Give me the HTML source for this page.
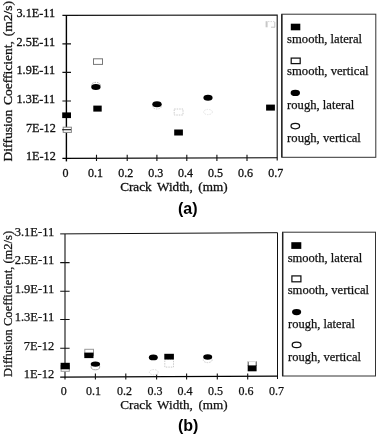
<!DOCTYPE html>
<html>
<head>
<meta charset="utf-8">
<title>Diffusion Coefficient vs Crack Width</title>
<style>
html,body{margin:0;padding:0;background:#fff;}
svg{display:block;}
text{font-family:"Liberation Serif","Times New Roman",serif;fill:#111;stroke:#111;stroke-width:0.3;}
.b{font-family:"Liberation Sans",Arial,sans-serif;font-weight:bold;fill:#000;stroke:none;}
.ax{stroke:#111;stroke-width:1.1;fill:none;}
.tk{stroke:#111;stroke-width:1.1;fill:none;}
.lg{stroke:#333;stroke-width:1;fill:none;}
.l text,.t2 text,text.t2{stroke-width:0.25;}
.fs{fill:#000;}
.lo{fill:#fff;stroke:#222;stroke-width:1;}
.os{fill:#fff;stroke:#555;stroke-width:1;}
.ft{fill:#fff;stroke:#ccc;stroke-width:1;stroke-dasharray:1.5 1;}
</style>
</head>
<body>
<svg width="378" height="434" viewBox="0 0 378 434">
<rect width="378" height="434" fill="#fff"/>

<!-- ===== (a) ===== -->
<g>
<!-- frame -->
<path class="ax" d="M62.4 15.4L277.2 15V160.6"/>
<path class="ax" d="M66.4 15.2V161.4" style="stroke-width:1.4;stroke:#000"/>
<path class="ax" d="M62.4 158.4L277.2 157.8" style="stroke-width:1.1;stroke:#000"/>
<!-- y ticks -->
<path class="tk" d="M62.4 43.9H71M62.4 72.4H71M62.4 101H71M62.4 129.7H71"/>
<!-- x ticks -->
<path class="tk" d="M96.5 154.8V161M127.2 154.8V161M156.9 154.8V161M186.8 154.8V161M216.9 154.8V161M247 154.8V161"/>
<!-- y labels -->
<g font-size="12.2" text-anchor="end" style="stroke-width:0.4">
<text x="55" y="17.3">3.1E-11</text>
<text x="55" y="45.8">2.5E-11</text>
<text x="55" y="74.4">1.9E-11</text>
<text x="55" y="103">1.3E-11</text>
<text x="55.8" y="132">7E-12</text>
<text x="55.8" y="160.3">1E-12</text>
</g>
<!-- x labels -->
<g font-size="12" text-anchor="middle">
<text x="65.6" y="176.5">0</text>
<text x="95.4" y="176.5">0.1</text>
<text x="125.8" y="176.5">0.2</text>
<text x="155.7" y="176.5">0.3</text>
<text x="185.6" y="176.5">0.4</text>
<text x="215.6" y="176.5">0.5</text>
<text x="245.6" y="176.5">0.6</text>
<text x="275.7" y="176.5">0.7</text>
</g>
<text x="120.2" y="191.4" font-size="13.2" word-spacing="2.3" textLength="107.4" lengthAdjust="spacingAndGlyphs">Crack Width, (mm)</text>
<text transform="translate(11.9 161.4) rotate(-90)" font-size="13.5" word-spacing="1.4" textLength="160.4" lengthAdjust="spacingAndGlyphs">Diffusion Coefficient, (m2/s)</text>
<text class="b" x="178" y="214.2" font-size="16">(a)</text>

<!-- data -->
<rect class="os" x="63.2" y="127.2" width="8.2" height="5.2" style="stroke:#888"/>
<path class="tk" d="M62.4 129.7H71"/>
<rect class="fs" x="62.2" y="112.4" width="8.8" height="5.7"/>
<rect class="os" x="93.5" y="58.8" width="9" height="5.6" style="stroke:#777"/>
<ellipse class="ft" cx="95.9" cy="85" rx="4.4" ry="2.6" style="stroke:#aaa"/>
<ellipse class="fs" cx="95.9" cy="87" rx="4.7" ry="2.9"/>
<rect class="fs" x="93.3" y="105.6" width="8.4" height="6"/>
<ellipse class="ft" cx="157" cy="106.4" rx="4.4" ry="2.6"/>
<ellipse class="fs" cx="157" cy="104.3" rx="4.7" ry="3"/>
<rect class="ft" x="174.2" y="109" width="8.8" height="6"/>
<rect class="fs" x="174.2" y="129.5" width="8.7" height="6"/>
<ellipse class="ft" cx="208" cy="112" rx="4.4" ry="2.6" style="stroke:#e4e4e4"/>
<ellipse class="fs" cx="208" cy="97.7" rx="4.6" ry="3"/>
<path d="M266.6 21.2V27.3" stroke="#c8c8c8" stroke-width="2" fill="none"/><path d="M274.8 22V27.3M271 27.2H275" stroke="#c4c4c4" stroke-width="1" fill="none"/><path d="M268 21.6H275" stroke="#d8d8d8" stroke-width="1" stroke-dasharray="1.5 1" fill="none"/>
<rect class="fs" x="266.1" y="104.6" width="8.8" height="6"/>

<!-- legend -->
<rect class="lg" x="281.8" y="14.2" width="94" height="143.1"/>
<path d="M281.8 14.2V157.3" stroke="#222" stroke-width="1.4"/>
<rect class="fs" x="290.8" y="23.7" width="9.5" height="6.6"/>
<text class="t2" x="287.1" y="42.8" font-size="12.6" textLength="75" lengthAdjust="spacingAndGlyphs">smooth, lateral</text>
<rect class="lo" x="291.2" y="58.1" width="9" height="5.5" style="stroke-width:1.25;stroke:#111"/>
<text class="t2" x="287.1" y="75.1" font-size="12.6" textLength="81.5" lengthAdjust="spacingAndGlyphs">smooth, vertical</text>
<ellipse class="fs" cx="295.3" cy="92.9" rx="4.7" ry="3.1"/>
<text class="t2" x="287.1" y="109.1" font-size="12.6" textLength="67.2" lengthAdjust="spacingAndGlyphs">rough, lateral</text>
<ellipse class="lo" cx="295.3" cy="126.1" rx="4.3" ry="2.7" style="stroke-width:1.25;stroke:#111"/>
<text class="t2" x="287.1" y="141.8" font-size="12.6" textLength="73.8" lengthAdjust="spacingAndGlyphs">rough, vertical</text>
</g>

<!-- ===== (b) ===== -->
<g class="t2">
<path class="ax" d="M60.2 233.9L277.5 232.7V379" style="stroke-width:1"/>
<path class="ax" d="M65 234V379.6" style="stroke-width:1.1"/>
<path class="ax" d="M60.2 377L277.5 376" style="stroke-width:1.25;stroke:#000"/>
<path class="tk" d="M60.2 262.6H69.6M60.2 291.2H69.6M60.2 319.5H69.6M60.2 348.2H69.6"/>
<path class="tk" d="M95.4 373.5V379.6M125.8 373.5V379.6M156.6 373.5V379.6M186.6 373.5V379.6M217.3 373.5V379.6M247.7 373.5V379.6"/>
<g font-size="12.5" text-anchor="end">
<text x="54.2" y="235.6">3.1E-11</text>
<text x="54.2" y="264.2">2.5E-11</text>
<text x="54.2" y="292.8">1.9E-11</text>
<text x="54.2" y="321.2">1.3E-11</text>
<text x="54.2" y="349.6">7E-12</text>
<text x="54.2" y="378">1E-12</text>
</g>
<g font-size="12" text-anchor="middle">
<text x="63.8" y="394.6">0</text>
<text x="93.6" y="394.6">0.1</text>
<text x="124.5" y="394.6">0.2</text>
<text x="154.9" y="394.6">0.3</text>
<text x="185.1" y="394.6">0.4</text>
<text x="215.5" y="394.6">0.5</text>
<text x="246" y="394.6">0.6</text>
<text x="276.6" y="394.6">0.7</text>
</g>
<text x="120.3" y="408.9" font-size="13.2" word-spacing="2.3" textLength="107.4" lengthAdjust="spacingAndGlyphs">Crack Width, (mm)</text>
<text transform="translate(12 376.9) rotate(-90)" font-size="12.5" textLength="146" lengthAdjust="spacingAndGlyphs">Diffusion Coefficient, (m2/s)</text>
<text class="b" x="178" y="431" font-size="16">(b)</text>

<!-- data -->
<rect class="os" x="61.1" y="365.5" width="8.2" height="5.8" style="stroke:#999"/>
<rect class="fs" x="60.6" y="362.8" width="9.2" height="6.5"/>
<rect class="os" x="84.8" y="349.3" width="8.7" height="6" style="stroke:#999"/>
<rect class="fs" x="84.3" y="352.6" width="9.2" height="5.5"/>
<ellipse class="os" cx="95.4" cy="366.9" rx="4.3" ry="2.9" style="stroke:#aaa"/>
<ellipse class="fs" cx="95.4" cy="364.1" rx="4.7" ry="2.7"/>
<ellipse class="ft" cx="153.8" cy="372.2" rx="4.4" ry="2.6" style="stroke:#ddd"/>
<ellipse class="fs" cx="153.3" cy="357.4" rx="4.5" ry="2.9"/>
<rect class="ft" x="164.8" y="359.5" width="8.7" height="7.6"/>
<rect class="fs" x="164.3" y="353.8" width="9.6" height="5.7"/>
<ellipse class="ft" cx="207.7" cy="360" rx="4.4" ry="2.6"/>
<ellipse class="fs" cx="207.7" cy="357" rx="4.5" ry="2.8"/>
<path d="M248.2 366V361.3M256.2 366V361.3" stroke="#444" stroke-width="1" fill="none"/><path d="M248.2 361.6H256.2" stroke="#ddd" stroke-width="1" fill="none"/>
<rect class="fs" x="247.7" y="365.4" width="8.9" height="5.9"/>

<!-- legend -->
<rect class="lg" x="282.5" y="232.2" width="93" height="143.8"/>
<path d="M282.7 232.4V376" stroke="#222" stroke-width="1.5"/>
<rect class="fs" x="291.3" y="242.2" width="10" height="6.7"/>
<text x="287.7" y="261.9" font-size="12.6" textLength="74.5" lengthAdjust="spacingAndGlyphs">smooth, lateral</text>
<rect class="lo" x="291.9" y="275.9" width="9" height="5.9" style="stroke-width:1.25;stroke:#111"/>
<text x="287.7" y="294.1" font-size="12.6" textLength="81.4" lengthAdjust="spacingAndGlyphs">smooth, vertical</text>
<ellipse class="fs" cx="296.6" cy="312.1" rx="4.6" ry="3.1"/>
<text x="288" y="327.7" font-size="12.6" textLength="66.9" lengthAdjust="spacingAndGlyphs">rough, lateral</text>
<ellipse class="lo" cx="296.6" cy="344.9" rx="4.4" ry="2.7" style="stroke-width:1.25;stroke:#111"/>
<text x="288" y="360.5" font-size="12.6" textLength="72.9" lengthAdjust="spacingAndGlyphs">rough, vertical</text>
</g>
</svg>
</body>
</html>
